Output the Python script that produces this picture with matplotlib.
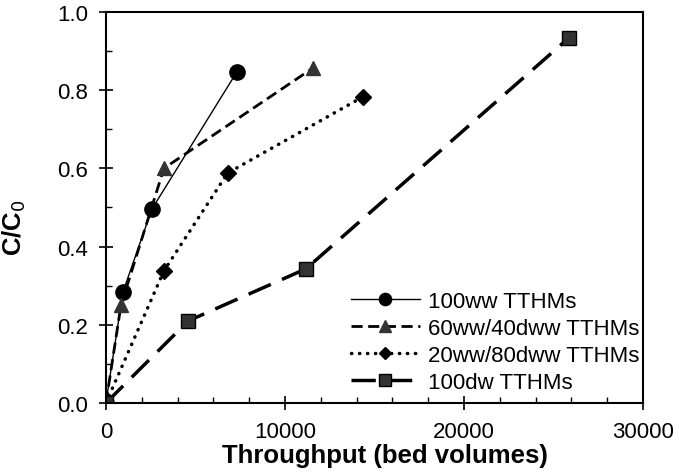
import matplotlib.pyplot as plt
from matplotlib.ticker import MultipleLocator

plt.rcParams['font.family'] = ['Liberation Sans', 'DejaVu Sans']

# data
x_100ww = [0, 950, 2570, 7320]
y_100ww = [0.0, 0.284, 0.496, 0.847]
x_60ww = [0, 840, 3240, 11580]
y_60ww = [0.0, 0.25, 0.60, 0.857]
x_20ww = [0, 3240, 6800, 14360]
y_20ww = [0.0, 0.338, 0.588, 0.783]
x_100dw = [0, 4600, 11170, 25870]
y_100dw = [0.0, 0.21, 0.343, 0.934]

labels = ['100ww TTHMs', '60ww/40dww TTHMs', '20ww/80dww TTHMs', '100dw TTHMs']

fig = plt.figure(figsize=(6.79, 4.77), dpi=100)
ax = fig.add_axes([0.156, 0.153, 0.791, 0.820])

ax.plot(x_100ww, y_100ww, color='black', lw=1, marker='o', ms=11,
        label=labels[0])
ax.plot(x_60ww, y_60ww, color='black', lw=2, linestyle=(0, (4, 2)),
        marker='^', ms=10, mfc='#333333', mec='#333333', label=labels[1])
ax.plot(x_20ww, y_20ww, color='black', lw=2.5, linestyle=(0, (0.1, 2.2)),
        dash_capstyle='round', marker='D', ms=8, label=labels[2])
ax.plot(x_100dw, y_100dw, color='black', lw=2.5, linestyle=(0, (7, 3.5)),
        marker='s', ms=10, mfc='#333333', mec='black', label=labels[3])

ax.set_xlim(0, 30000)
ax.set_ylim(0, 1.0)
ax.xaxis.set_major_locator(MultipleLocator(10000))
ax.xaxis.set_minor_locator(MultipleLocator(2000))
ax.yaxis.set_major_locator(MultipleLocator(0.2))
ax.yaxis.set_minor_locator(MultipleLocator(0.1))
ax.yaxis.set_major_formatter(plt.FormatStrFormatter('%.1f'))
ax.tick_params(which='major', direction='inout', length=10, width=1.2,
               labelsize=16, pad=8)
ax.tick_params(which='minor', direction='in', length=4, width=1)
for s in ax.spines.values():
    s.set_linewidth(1.5)

ax.set_xlabel('Throughput (bed volumes)', fontsize=18.5, fontweight='bold')
ax.set_ylabel('C/C$_0$', fontsize=18.5, fontweight='bold')
ax.xaxis.set_label_coords(0.52, -0.103)
ax.yaxis.set_label_coords(-0.145, 0.45)

ax.legend(loc='lower left', bbox_to_anchor=(0.456, 0.025), frameon=False,
          fontsize=16, handlelength=3.1, handletextpad=0.35,
          labelspacing=0.27, markerscale=0.8, borderpad=0,
          borderaxespad=0)

plt.savefig('out.png', dpi=100)
plt.close()
